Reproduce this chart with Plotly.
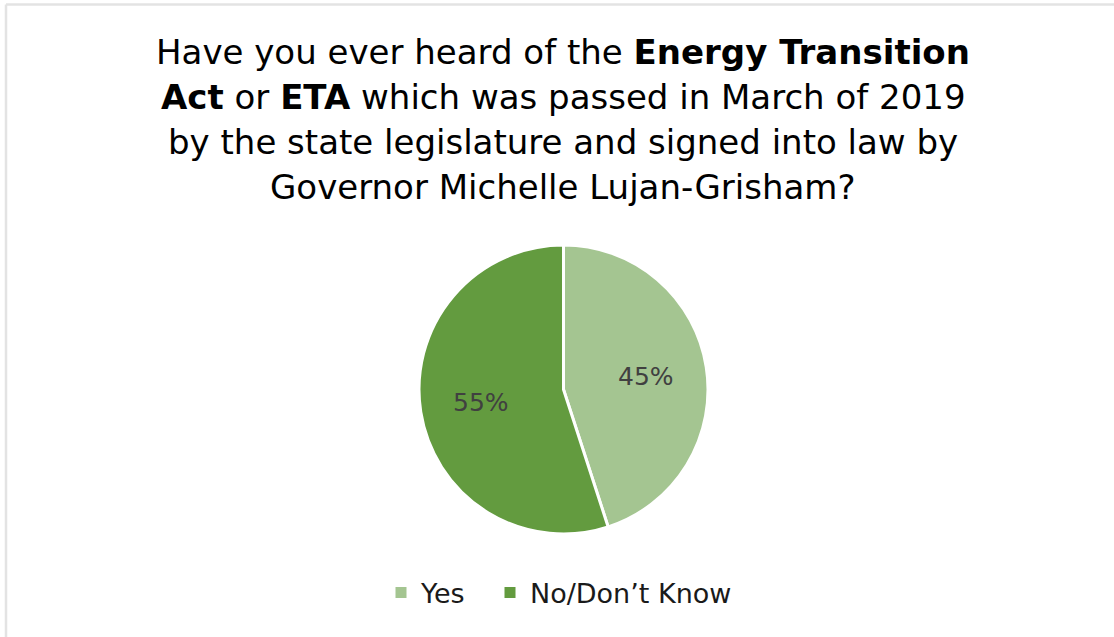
import math
import plotly.graph_objects as go

# Survey answers and their shares
labels = ["Yes", "No/Don\u2019t Know"]
shares = [45, 55]
colors = ["#A4C591", "#639B3F"]

title_lines = [
    "Have you ever heard of the <b>Energy Transition</b>",
    "<b>Act</b> or <b>ETA</b> which was passed in March of 2019",
    "by the state legislature and signed into law by",
    "Governor Michelle Lujan-Grisham?",
]

W, H = 1114, 637
FONT = "DejaVu Sans"

# Pie placement in pixels
cx, cy, R = 563.5, 389.5, 144.5

fig = go.Figure(
    go.Pie(
        labels=labels,
        values=shares,
        sort=False,
        direction="clockwise",
        rotation=0,
        marker=dict(colors=colors, line=dict(color="white", width=3)),
        textinfo="none",
        hoverinfo="label+percent",
        showlegend=False,
        domain=dict(x=[(cx - R) / W, (cx + R) / W], y=[(H - cy - R) / H, (H - cy + R) / H]),
    )
)

# Legend keys: one square per category, each in its own legend box
legend_names = ["legend", "legend2"]
legend_left_px = [381, 490]
for lab, col, lg in zip(labels, colors, legend_names):
    fig.add_trace(go.Scatter(
        x=[None], y=[None], mode="markers", name=lab, legend=lg,
        marker=dict(symbol="square", size=11, color=col),
        hoverinfo="skip",
    ))

legend_style = dict(
    orientation="h",
    xanchor="left",
    yanchor="middle",
    y=(H - 593) / H,
    font=dict(family=FONT, size=27, color="#1a1a1a"),
    itemwidth=30,
    bgcolor="rgba(0,0,0,0)",
)

# Percentage labels along each slice's bisector
annotations = []
total = sum(shares)
start = 0.0
for v in shares:
    frac = v / total
    mid = (start + frac / 2) * 2 * math.pi  # clockwise from 12 o'clock
    px = cx + 0.58 * R * math.sin(mid)
    py = cy - 0.58 * R * math.cos(mid)
    annotations.append(dict(
        x=px / W, y=1 - py / H, xref="paper", yref="paper",
        text=f"{round(frac * 100)}%", showarrow=False,
        xanchor="center", yanchor="middle",
        font=dict(family=FONT, size=25, color="#404040"),
    ))
    start += frac

# Title, one line per annotation
line_centers = [52, 97, 142, 187]
for txt, yc in zip(title_lines, line_centers):
    annotations.append(dict(
        x=563 / W, y=1 - yc / H, xref="paper", yref="paper",
        text=txt, showarrow=False, xanchor="center", yanchor="middle",
        font=dict(family=FONT, size=34, color="#000000"),
    ))

fig.update_layout(
    width=W,
    height=H,
    margin=dict(l=0, r=0, t=0, b=0),
    paper_bgcolor="white",
    plot_bgcolor="white",
    xaxis=dict(visible=False),
    yaxis=dict(visible=False),
    annotations=annotations,
    legend=dict(legend_style, x=legend_left_px[0] / W),
    legend2=dict(legend_style, x=legend_left_px[1] / W),
    shapes=[
        dict(type="line", xref="paper", yref="paper", x0=6 / W, x1=1, y0=1 - 4.5 / H, y1=1 - 4.5 / H,
             line=dict(color="#E3E3E3", width=2.5)),
        dict(type="line", xref="paper", yref="paper", x0=6 / W, x1=6 / W, y0=0, y1=1 - 4.5 / H,
             line=dict(color="#E3E3E3", width=2.5)),
    ],
)

fig.write_html("out.html")
